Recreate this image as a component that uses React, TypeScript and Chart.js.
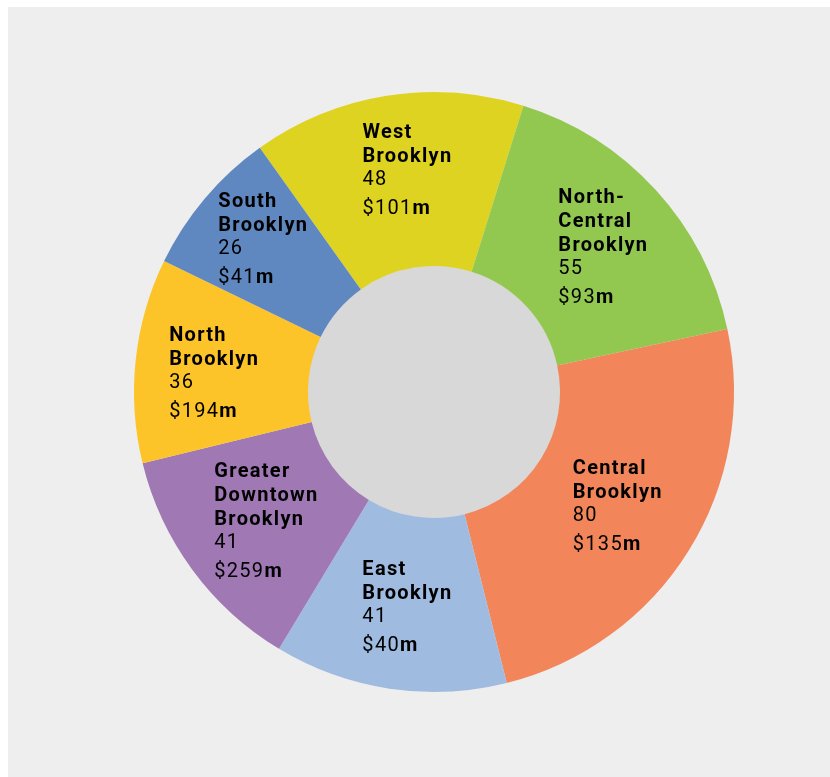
import React, { useEffect, useRef } from "react";
import { Chart, registerables } from "chart.js";

Chart.register(...registerables);

const regionNames: string[][] = [
  ["West", "Brooklyn"],
  ["North-", "Central", "Brooklyn"],
  ["Central", "Brooklyn"],
  ["East", "Brooklyn"],
  ["Greater", "Downtown", "Brooklyn"],
  ["North", "Brooklyn"],
  ["South", "Brooklyn"],
];
const counts = [48, 55, 80, 41, 41, 36, 26];
const fundingMillions = [101, 93, 135, 40, 259, 194, 41];
const sliceColors = ["#dfd321", "#92c850", "#f2865a", "#9fbbe0", "#9f78b4", "#fcc428", "#5f87c0"];

// label nudges (styling only)
const labelNudge: [number, number][] = [
  [7, -11],
  [12, 0],
  [3, 2],
  [5, 5],
  [4, 4],
  [-8, 4],
  [-8, -15],
];

const FONT = "Roboto, 'Open Sans', sans-serif";
const SIZE = 20;

const labelPlugin = {
  id: "sliceLabels",
  beforeDatasetsDraw(chart: any) {
    const meta = chart.getDatasetMeta(0);
    const arc = meta.data[0];
    if (!arc) return;
    const { x, y, innerRadius } = arc.getProps(["x", "y", "innerRadius"], true);
    const ctx = chart.ctx;
    ctx.save();
    ctx.beginPath();
    ctx.arc(x, y, innerRadius + 0.5, 0, Math.PI * 2);
    ctx.fillStyle = "#d8d8d8";
    ctx.fill();
    ctx.restore();
  },
  afterDatasetsDraw(chart: any) {
    const ctx = chart.ctx;
    const meta = chart.getDatasetMeta(0);
    ctx.save();
    ctx.fillStyle = "#000";
    ctx.textBaseline = "middle";
    ctx.textAlign = "left";
    (ctx as any).letterSpacing = "1.3px";
    meta.data.forEach((el: any, i: number) => {
      const pos = el.tooltipPosition(true);
      const names = regionNames[i];
      const boldFont = `bold ${SIZE}px ${FONT}`;
      const regFont = `${SIZE}px ${FONT}`;
      ctx.font = boldFont;
      let w = 0;
      names.forEach((n) => (w = Math.max(w, ctx.measureText(n).width)));
      ctx.font = regFont;
      const numStr = String(counts[i]);
      const dol = "$" + fundingMillions[i];
      w = Math.max(w, ctx.measureText(numStr).width);
      const dolW = ctx.measureText(dol).width;
      ctx.font = boldFont;
      const mW = ctx.measureText("m").width;
      w = Math.max(w, dolW + mW);
      const span = (names.length - 1) * 24 + 23 + 29;
      const left = pos.x + labelNudge[i][0] - w / 2;
      let cy = pos.y + labelNudge[i][1] - span / 2;
      ctx.font = boldFont;
      names.forEach((n, k) => {
        ctx.fillText(n, left, cy);
        if (k < names.length - 1) cy += 24;
      });
      cy += 23;
      ctx.font = regFont;
      ctx.fillText(numStr, left, cy);
      cy += 29;
      ctx.fillText(dol, left, cy);
      ctx.font = boldFont;
      ctx.fillText("m", left + dolW, cy);
    });
    ctx.restore();
  },
};

export default function App() {
  const ref = useRef<HTMLCanvasElement | null>(null);
  useEffect(() => {
    if (!ref.current) return;
    const chart = new Chart(ref.current, {
      type: "doughnut",
      data: {
        labels: regionNames.map((n) => n.join(" ")),
        datasets: [
          {
            data: counts,
            backgroundColor: sliceColors,
            borderWidth: 0,
          },
        ],
      },
      options: {
        animation: false,
        responsive: false,
        rotation: -35.5,
        cutout: "42%",
        layout: { padding: { left: 126, right: 96, top: 85, bottom: 85 } },
        plugins: {
          legend: { display: false },
          tooltip: { enabled: false },
        },
      },
      plugins: [labelPlugin],
    });
    return () => chart.destroy();
  }, []);
  return (
    <div
      style={{
        position: "fixed",
        left: 8,
        top: 7,
        right: 0,
        bottom: 0,
        background: "#eeeeee",
        overflow: "hidden",
      }}
    >
      <canvas ref={ref} width={822} height={770} style={{ display: "block" }} />
    </div>
  );
}
